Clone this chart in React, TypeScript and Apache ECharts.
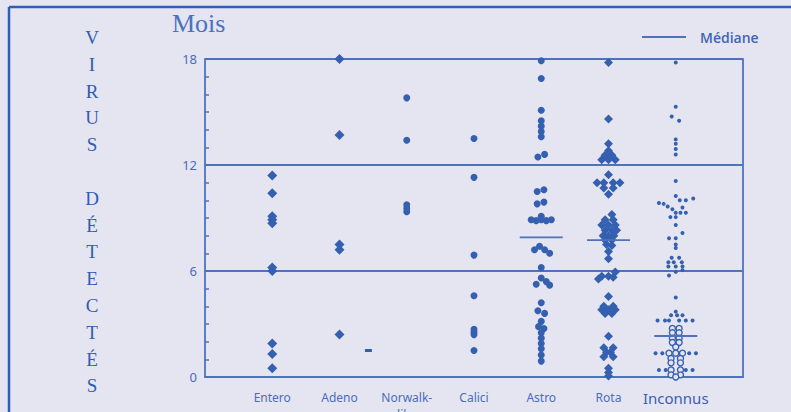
import React, { useEffect, useRef } from "react";
import * as echarts from "echarts";

// Categories (x axis) and y ticks
const categories = ["Entero", "Adeno", "Norwalk-\nlike", "Calici", "Astro", "Rota", "Inconnus"];
const yTicks = [0, 6, 12, 18];

// Points per category: [months, horizontal jitter in category units]
const enteroPts = [[11.4, 0], [10.4, 0], [9.1, 0], [8.9, 0], [8.7, 0], [6.2, 0], [6.0, 0], [1.9, 0], [1.3, 0], [0.5, 0]];
const adenoPts = [[18.0, 0], [13.7, 0], [7.5, 0], [7.2, 0], [2.4, 0]];
const adenoStray = [[1.5, 0.43]];
const norwalkPts = [[15.8, 0], [13.4, 0], [9.75, 0], [9.55, 0], [9.35, 0]];
const caliciPts = [[13.5, 0], [11.3, 0], [6.9, 0], [4.6, 0], [2.7, 0], [2.55, 0], [2.4, 0], [1.5, 0]];
const astroPts = [
  [17.9, 0], [16.9, 0], [15.1, 0], [14.5, 0], [14.2, 0], [13.9, 0], [13.6, 0],
  [12.45, -0.05], [12.6, 0.05], [10.5, -0.06], [10.6, 0.04], [9.8, -0.06], [9.9, 0.04],
  [9.1, 0], [8.9, -0.15], [8.85, -0.075], [8.9, 0], [8.85, 0.075], [8.9, 0.15],
  [7.2, -0.1], [7.4, -0.025], [7.2, 0.05], [7.0, 0.125],
  [6.2, 0], [5.25, -0.075], [5.6, 0], [5.4, 0.075], [5.2, 0.125],
  [4.2, 0], [3.75, -0.05], [3.6, 0.05], [3.15, 0], [2.85, -0.04], [2.75, 0.04],
  [2.5, 0], [2.2, 0], [1.9, 0], [1.6, 0], [1.25, 0], [0.9, 0]
];
const rotaPts = [
  [17.8, 0], [14.6, 0], [13.2, 0], [12.8, 0], [12.55, -0.05], [12.55, 0.05],
  [12.3, -0.1], [12.3, 0], [12.3, 0.1],
  [11.45, 0], [11.0, -0.17], [11.0, -0.07], [11.0, 0.07], [11.0, 0.17], [10.7, -0.07], [10.7, 0.07], [10.35, 0],
  [9.2, 0.05], [8.9, -0.05], [8.9, 0.07], [8.6, -0.1], [8.6, 0], [8.6, 0.1],
  [8.3, -0.05], [8.3, 0.05], [8.3, 0.12], [8.0, -0.08], [8.0, 0], [8.0, 0.08],
  [7.75, -0.05], [7.75, 0.05], [7.5, -0.03], [7.45, 0.05], [7.1, 0], [6.7, 0],
  [5.95, 0.1], [5.7, -0.1], [5.7, 0], [5.65, 0.07], [5.55, -0.15],
  [4.55, 0], [4.0, -0.07], [4.0, 0.07], [3.8, -0.1], [3.8, 0], [3.8, 0.1], [3.6, -0.05], [3.6, 0.05],
  [2.3, 0], [1.65, -0.07], [1.65, 0.07], [1.4, -0.03], [1.4, 0.03], [1.15, -0.07], [1.15, 0.07],
  [0.5, 0], [0.25, 0], [0.05, 0]
];
const inconnusDots = [
  [17.8, 0], [15.3, 0], [14.75, -0.06], [14.5, 0.05], [13.45, 0], [13.2, 0], [12.9, 0], [12.6, 0],
  [11.1, 0], [10.25, 0], [10.0, 0.06], [10.0, 0.15], [10.1, 0.26], [9.85, -0.25], [9.8, -0.18],
  [9.65, -0.12], [9.5, -0.05], [9.6, 0.1], [9.3, 0], [9.3, 0.07], [9.3, 0.15], [9.05, -0.08], [9.05, 0], [8.6, 0],
  [8.15, 0.1], [7.85, -0.1], [7.85, 0], [7.5, 0], [7.3, 0],
  [6.75, -0.06], [6.75, 0.05], [6.5, -0.11], [6.5, -0.03], [6.5, 0.09], [6.25, -0.11], [6.25, 0], [6.25, 0.1],
  [6.05, 0.1], [5.95, 0], [5.75, -0.1],
  [4.5, 0], [3.7, 0], [3.5, -0.07], [3.5, 0.02], [3.5, 0.1],
  [3.2, -0.27], [3.2, -0.16], [3.2, -0.1], [3.2, 0.05], [3.2, 0.15], [3.2, 0.25],
  [1.35, -0.3], [1.35, -0.2], [1.35, 0.2], [1.35, 0.3],
  [0.4, -0.25], [0.4, -0.15], [0.4, 0.15], [0.4, 0.25]
];
const inconnusRings = [
  [2.75, -0.05], [2.75, 0.05], [2.5, -0.05], [2.5, 0.05], [2.2, -0.05], [2.2, 0.05],
  [1.95, -0.05], [1.95, 0.05], [1.7, 0], [1.35, -0.1], [1.35, 0], [1.35, 0.1],
  [1.05, -0.07], [1.05, 0.07], [0.8, -0.07], [0.8, 0.07],
  [0.4, -0.07], [0.4, 0.07], [0.12, -0.07], [0.12, 0.07], [0, 0]
];

// Medians: [category index, months]
const medians = [[4, 7.9], [5, 7.75], [6, 2.32]];

const BLUE = "#3560b0";
const LINE = "#4f72bd";
const TEXT = "#4a6dbb";

function toData(cat: number, pts: number[][]) {
  return pts.map(([m, dx]) => [cat + dx, m]);
}

export default function App() {
  const ref = useRef<HTMLDivElement>(null);
  useEffect(() => {
    if (!ref.current) return;
    const chart = echarts.init(ref.current, null, { renderer: "svg" });
    const scatter = (cat: number, pts: number[][], symbol: string, size: any, extra: any = {}) => ({
      type: "scatter",
      data: toData(cat, pts),
      symbol,
      symbolSize: size,
      itemStyle: { color: BLUE, opacity: 1, ...extra },
      z: 3,
    });
    const medianSeries = medians.map(([c, m]) => ({
      type: "line",
      name: "Médiane",
      data: [[c - 0.32, m], [c + 0.32, m]],
      symbol: "none",
      lineStyle: { color: LINE, width: 1.8 },
      itemStyle: { color: LINE },
      z: 4,
    }));
    chart.setOption({
      animation: false,
      backgroundColor: "#e5e5f1",
      textStyle: { fontFamily: "Noto Sans" },
      grid: { left: 205, right: 48, top: 59, bottom: 35, containLabel: false, outerBoundsMode: "none" },
      legend: {
        data: ["Médiane"],
        left: 637,
        top: 25,
        icon: "rect",
        itemWidth: 44,
        itemHeight: 2,
        textStyle: { color: "#3f64b4", fontSize: 14, fontFamily: "Open Sans", fontWeight: 600, padding: [0, 0, 0, 9] },
      },
      xAxis: {
        type: "value",
        min: -1,
        max: 7,
        interval: 1,
        axisLine: { show: true, onZero: false, lineStyle: { color: LINE, width: 1.8 } },
        axisTick: { show: false },
        splitLine: { show: false },
        axisLabel: {
          margin: 12,
          color: TEXT,
          fontSize: 12,
          lineHeight: 17,
          verticalAlign: "top",
          formatter: (v: number) => {
            const i = Math.round(v);
            if (i < 0 || i >= categories.length) return "";
            if (categories[i] === "Inconnus") return "{big|Inconnus}";
            return categories[i];
          },
          rich: { big: { fontSize: 15, lineHeight: 17, color: "#3b5fae", fontFamily: "Noto Sans" } },
        },
      },
      yAxis: [
        {
          type: "value",
          min: yTicks[0],
          max: yTicks[yTicks.length - 1],
          interval: 6,
          axisLine: { show: true, onZero: false, lineStyle: { color: LINE, width: 1.8 } },
          axisTick: { show: true, inside: true, length: 4, lineStyle: { color: LINE, width: 1.5 } },
          minorTick: { show: true, splitNumber: 6, length: 4, lineStyle: { color: LINE, width: 1.5 } },
          splitLine: { show: true, lineStyle: { color: LINE, width: 1.8 } },
          axisLabel: { color: TEXT, fontSize: 13, margin: 8 },
        },
        {
          type: "value",
          min: 0,
          max: 18,
          interval: 6,
          position: "right",
          axisLine: { show: true, onZero: false, lineStyle: { color: LINE, width: 1.8 } },
          axisTick: { show: false },
          axisLabel: { show: false },
          splitLine: { show: false },
        },
      ],
      series: [
        scatter(0, enteroPts, "diamond", 10),
        scatter(1, adenoPts, "diamond", 10),
        scatter(1, adenoStray, "rect", [7, 3]),
        scatter(2, norwalkPts, "circle", 7),
        scatter(3, caliciPts, "circle", 7),
        scatter(4, astroPts, "circle", 7),
        scatter(5, rotaPts, "diamond", 9),
        scatter(6, inconnusDots, "circle", 4),
        {
          type: "scatter",
          data: toData(6, inconnusRings),
          symbol: "circle",
          symbolSize: 6,
          itemStyle: { color: "#e5e5f1", borderColor: BLUE, borderWidth: 1.4, opacity: 1 },
          z: 3,
        },
        ...medianSeries,
      ],
      graphic: [
        { type: "line", shape: { x1: 9, y1: 7, x2: 791, y2: 7 }, style: { stroke: "#2d5fb5", lineWidth: 2.5 } },
        { type: "line", shape: { x1: 9, y1: 7, x2: 9, y2: 412 }, style: { stroke: "#2d5fb5", lineWidth: 2.5 } },
        {
          type: "text",
          left: 172,
          top: 10,
          style: { text: "Mois", font: "26px 'Liberation Serif', serif", fill: "#4d71bd" },
        },
        {
          type: "text",
          x: 92,
          y: 24,
          style: {
            text: "V\nI\nR\nU\nS\n\nD\nÉ\nT\nE\nC\nT\nÉ\nS",
            font: "19px 'Liberation Serif', serif",
            fill: "#2f5db0",
            align: "center",
            verticalAlign: "top",
            lineHeight: 26.8,
          },
        },
      ],
    });
    return () => chart.dispose();
  }, []);
  return <div ref={ref} style={{ position: "absolute", left: 0, top: 0, width: 791, height: 412 }} />;
}
